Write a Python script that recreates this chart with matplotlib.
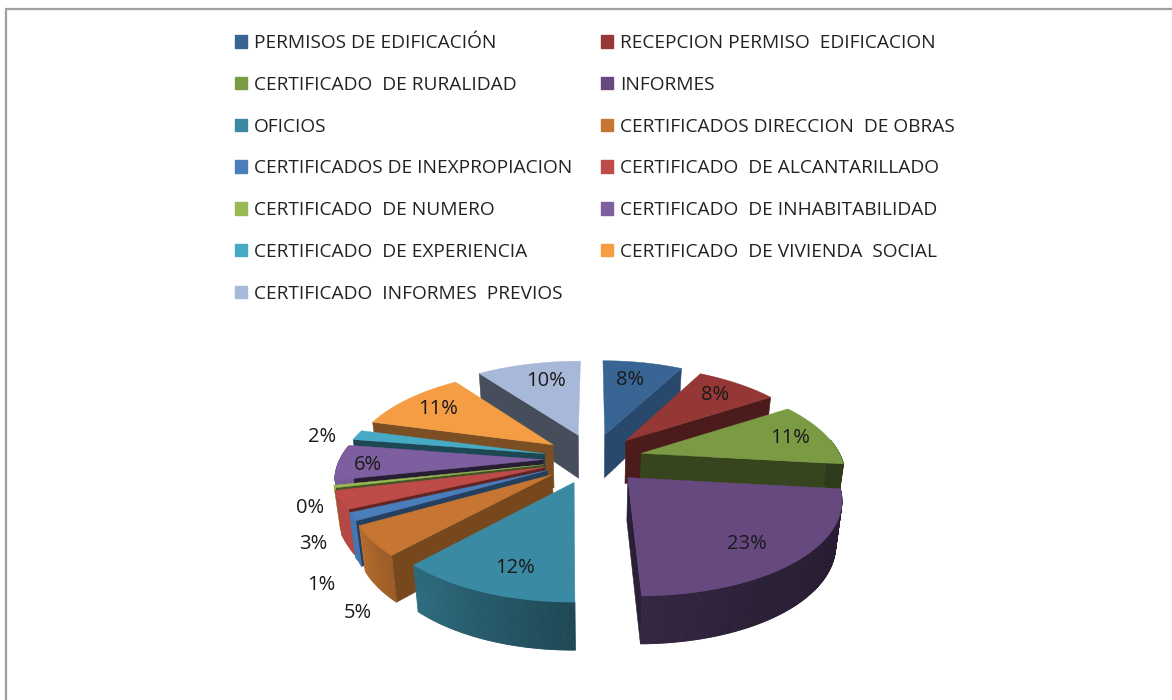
#!/usr/bin/env python3
"""
Exploded 3D style pie of permit and certificate shares.
"""

import numpy as np
import matplotlib
matplotlib.use('Agg')
import matplotlib.pyplot as plt
from matplotlib.patches import Patch

categories = ['PERMISOS DE EDIFICACIÓN', 'RECEPCION PERMISO  EDIFICACION',
              'CERTIFICADO  DE RURALIDAD', 'INFORMES', 'OFICIOS',
              'CERTIFICADOS DIRECCION  DE OBRAS', 'CERTIFICADOS DE INEXPROPIACION',
              'CERTIFICADO  DE ALCANTARILLADO', 'CERTIFICADO  DE NUMERO',
              'CERTIFICADO  DE INHABITABILIDAD', 'CERTIFICADO  DE EXPERIENCIA',
              'CERTIFICADO  DE VIVIENDA  SOCIAL', 'CERTIFICADO  INFORMES  PREVIOS']
values = [7.9, 8.0, 10.9, 23.0, 12.0, 5.0, 1.3, 3.0, 0.4, 6.0, 1.7, 10.7, 10.0]

top_colors = ['#386594', '#953735', '#7a9a44', '#65497f', '#3a8aa3', '#c67632', '#4a7ebb',
              '#be4b48', '#98b954', '#7d5fa0', '#46aac5', '#f59d45', '#a7b8d8']
side_shade = [0.72, 0.5, 0.45, 0.42, 0.55, 0.6, 0.5, 0.5, 0.45, 0.32, 0.42, 0.5, 0.42]

# label placement, in pixels
label_xy = [(630, 380), (715, 395), (790, 438), (747, 544), (515, 568), (358, 613), (321, 585),
            (313, 544), (310, 508), (368, 465), (322, 437), (438, 409), (546, 381)]

# projection of the pie disc, in pixels
CX, CY = 593, 459
EXPLODE_X, EXPLODE_Y = 50, 25
RX_RIGHT, RY = 199, 91.6
PERSP = 0.188
BOTTOM_SCALE = 0.975


def project(theta, r, mid):
    """Screen position of a point at angle theta, radius r, on the slice centred at mid."""
    k = 1 / (1 + PERSP * (r * np.cos(theta) + 0.27 * np.cos(mid)))
    # the left side of the disc is a bit narrower towards the front
    rx_left = np.interp(np.cos(theta), [-0.7, -0.45, -0.2, 1.0], [192, 192, 204, 207])
    rx = np.where(np.sin(theta) >= 0, RX_RIGHT, rx_left)
    x = CX + (rx * r * np.sin(theta) + EXPLODE_X * np.sin(mid)) * k
    x = x + 3 * r * (1 - np.cos(theta)) / 2
    y = CY - EXPLODE_Y * np.cos(mid) - RY * r * np.cos(theta) * k
    return x, y


def project_bottom(theta, r, mid):
    x, y = project(theta, r, mid)
    return CX + (x - CX) * BOTTOM_SCALE, y + 43 - 5 * r * np.cos(theta)


def shade(color, f):
    return tuple(c * f for c in matplotlib.colors.to_rgb(color))


def rim_shade(theta):
    deg = np.degrees(theta)
    return np.interp(deg, [90, 150, 180, 223, 245, 290], [0.38, 0.42, 0.52, 0.78, 0.95, 0.95])


def draw_slice(ax, t1, t2, color, side):
    mid = (t1 + t2) / 2
    arc = np.linspace(t1, t2, max(int(np.degrees(t2 - t1)) * 2, 4))
    xs, ys = project(arc, 1.0, mid)
    bx, by = project_bottom(arc, 1.0, mid)
    ax0, ay0 = project(mid, 0.0, mid)
    bx0, by0 = project_bottom(mid, 0.0, mid)
    side_color = shade(color, side)

    def radial_face(x_top, y_top, x_bot, y_bot):
        ax.fill([ax0, x_top, x_bot, bx0], [ay0, y_top, y_bot, by0], color=side_color, lw=0.4)

    # only faces turned towards the viewer
    if np.cos(t1 - np.pi / 2) < 0:
        radial_face(xs[0], ys[0], bx[0], by[0])
    if np.cos(t2 + np.pi / 2) < 0:
        radial_face(xs[-1], ys[-1], bx[-1], by[-1])

    for i in range(len(arc) - 1):
        tm = (arc[i] + arc[i + 1]) / 2
        if np.cos(tm) < 0.15:
            ax.fill([xs[i], xs[i + 1], bx[i + 1], bx[i]],
                    [ys[i], ys[i + 1], by[i + 1], by[i]],
                    color=shade(color, rim_shade(tm)), lw=0.6)

    ax.fill(np.r_[ax0, xs], np.r_[ay0, ys], color=color, lw=0.3)


fig = plt.figure(figsize=(11.72, 7.0), dpi=100)
ax = fig.add_axes([0, 0, 1, 1])
ax.set_xlim(0, 1172)
ax.set_ylim(700, 0)
ax.axis('off')

# outer chart frame
ax.plot([6, 6, 1172], [700, 9, 9], color='#a0a0a0', lw=1.6, solid_joinstyle='miter')

fractions = np.array(values) / sum(values)
edges = np.r_[0, np.cumsum(fractions)] * 2 * np.pi
mids = (edges[:-1] + edges[1:]) / 2

# back to front
for i in np.argsort(-np.cos(mids)):
    draw_slice(ax, edges[i], edges[i + 1], top_colors[i], side_shade[i])

for v, (lx, ly) in zip(values, label_xy):
    ax.text(lx, ly, f'{v:.0f}%', ha='center', va='center', fontsize=14.5,
            family='Open Sans', color='#1a1a1a')

handles = [Patch(color=c, label=n) for c, n in zip(top_colors, categories)]
order = handles[0::2] + handles[1::2]
ax.legend(handles=order, ncol=2, frameon=False, loc='upper left',
          bbox_to_anchor=(235 / 1172, 1 - 34 / 700), prop={'family': 'Open Sans', 'size': 13.8},
          handlelength=0.63, handleheight=0.63, handletextpad=0.37, labelspacing=1.24,
          columnspacing=1.5, labelcolor='#222222', borderpad=0, borderaxespad=0)

plt.savefig('out.png', dpi=100)
